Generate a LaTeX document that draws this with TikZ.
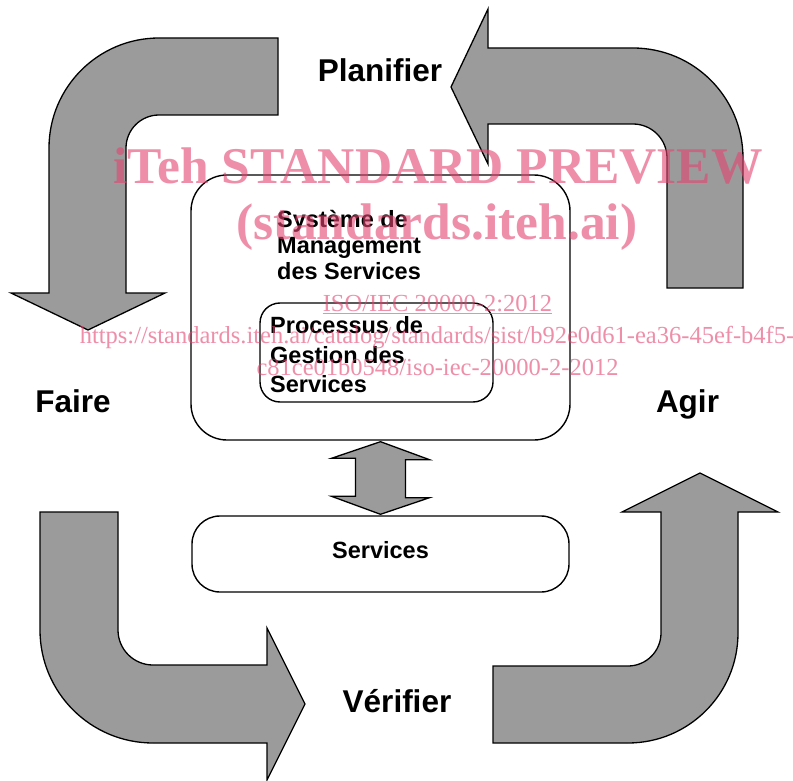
\documentclass[tikz,border=0pt]{standalone}
\usepackage{fontspec}
\setmainfont[Ligatures=NoCommon]{Liberation Sans}
\newfontfamily\wmserif{Liberation Serif}
\usetikzlibrary{calc}
\definecolor{arrowgray}{RGB}{155,155,155}
\definecolor{wmpink}{RGB}{227,68,113}

\begin{document}
\begin{tikzpicture}[x=1pt,y=-1pt,
  cycarrow/.style={fill=arrowgray, draw=black, line width=1.3pt, line join=miter},
  roundbox/.style={draw=black, line width=1.4pt, fill=white, inner sep=0pt},
  phase/.style={font=\fontsize{31.5}{36}\selectfont\bfseries, inner sep=0pt, anchor=base},
  boxtext/.style={font=\fontsize{23.5}{27}\selectfont\bfseries, inner sep=0pt, anchor=base west},
  wmbig/.style={font=\wmserif\bfseries\fontsize{51.5}{56}\selectfont, text=wmpink, text opacity=0.6, inner sep=0pt, anchor=base},
  wmsmall/.style={font=\wmserif\fontsize{24.5}{28}\selectfont, text=wmpink, text opacity=0.6, inner sep=0pt, anchor=base}
]

% canvas
\fill[white] (0,0) rectangle (793,781);
\useasboundingbox (0,0) rectangle (793,781);

% PDCA cycle arrows
% Planifier -> Faire
\draw[cycarrow] (278,38) -- (159,38) arc[start angle=270, end angle=180, radius=110]
  -- (49,293) -- (11,293) -- (88,330) -- (165,293) -- (126,293) -- (126,148)
  arc[start angle=180, end angle=270, radius=33] -- (278,115) -- cycle;
% Agir -> Planifier
\draw[cycarrow] (743,288) -- (743,158) arc[start angle=0, end angle=-90, radius=110]
  -- (488,48) -- (488,9) -- (451,87) -- (488,164) -- (488,124) -- (633,124)
  arc[start angle=270, end angle=360, radius=34] -- (667,288) -- cycle;
% Faire -> Verifier
\draw[cycarrow] (40,512) -- (40,630) arc[start angle=180, end angle=90, radius=113]
  -- (267,743) -- (267,780) -- (305,704) -- (267,628) -- (267,665) -- (153,665)
  arc[start angle=90, end angle=180, radius=35] -- (118,512) -- cycle;
% Verifier -> Agir
\draw[cycarrow] (493,666) -- (628,666) arc[start angle=90, end angle=0, radius=33]
  -- (661,512) -- (622,512) -- (700,473) -- (778,512) -- (738,512) -- (738,633)
  arc[start angle=0, end angle=90, radius=110] -- (493,743) -- cycle;

% boxes
\node[roundbox, rounded corners=36pt, minimum width=379pt, minimum height=265pt] (sms) at (380.5,307.5) {};
\node[roundbox, rounded corners=20pt, minimum width=233pt, minimum height=99pt] (proc) at (376.5,352.5) {};
\node[roundbox, rounded corners=28pt, minimum width=377pt, minimum height=76pt] (svc) at (380.5,554) {};

% double arrow between the management system and the services
\draw[cycarrow] ($(sms.south)+(0,1)$) -- ++(49,18) -- ++(-24,0) -- ++(0,38) -- ++(24,0)
  -- ($(svc.north)+(0,-1)$) -- ++(-49,-18) -- ++(24,0) -- ++(0,-38) -- ++(-24,0) -- cycle;

% box texts
\node[boxtext] (sms1) at (277,227) {Système de};
\node[boxtext] (sms2) at (277,253) {Management};
\node[boxtext] (sms3) at (277,279) {des Services};
\node[boxtext] (proc1) at (270,333) {Processus de};
\node[boxtext] (proc2) at (270,363) {Gestion des};
\node[boxtext] (proc3) at (270,392) {Services};
\node[boxtext, anchor=base] (svclabel) at (380.5,558) {Services};

% phase labels
\node[phase] (plan) at (380,82) {Planifier};
\node[phase] (do) at (73,412) {Faire};
\node[phase] (act) at (687.5,412) {Agir};
\node[phase] (check) at (397,712) {Vérifier};

% preview stamp
\node[wmbig] (wm1) at (438,183) {iTeh STANDARD PREVIEW};
\node[wmbig] (wm2) at (437,240) {(standards.iteh.ai)};
\node[wmsmall] (wm3) at (437.5,311) {ISO/IEC 20000-2:2012};
\draw[wmpink, opacity=0.6, line width=1.2pt] ($(wm3.base west)+(0,2.5)$) -- ($(wm3.base east)+(0,2.5)$);
\node[wmsmall] (wm4) at (437,343) {https://standards.iteh.ai/catalog/standards/sist/b92e0d61-ea36-45ef-b4f5-};
\node[wmsmall] (wm5) at (437.5,375) {c81ce01b0548/iso-iec-20000-2-2012};
\end{tikzpicture}
\end{document}
